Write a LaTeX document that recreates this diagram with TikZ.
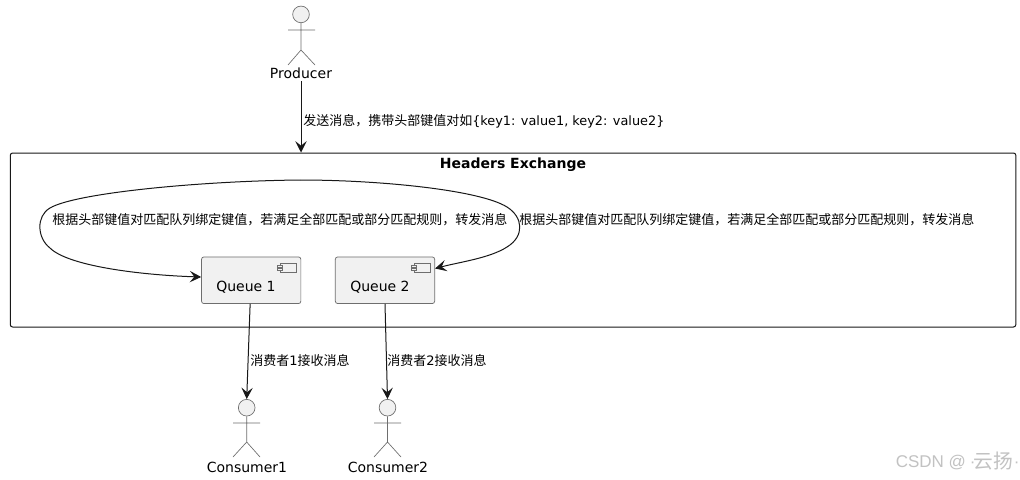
\documentclass[tikz,border=0pt]{standalone}
\usepackage{fontspec}
\setmainfont{DejaVu Sans}
\newfontfamily\cjk{Noto Sans CJK SC}
\newfontfamily\wmlatin{Liberation Sans}
\usetikzlibrary{arrows.meta}
\definecolor{umlfill}{HTML}{F1F1F1}
\definecolor{umlline}{HTML}{181818}
\definecolor{umlgrey}{HTML}{6E6E6E}
\tikzset{
  umlarrow/.style={draw=umlline,line width=0.75pt,-{Stealth[length=8.5pt,width=8.5pt,inset=3.4pt]}},
  actorhead/.style={circle,draw=umlgrey,fill=umlfill,line width=0.5pt,minimum size=12.5pt,inner sep=0pt},
  actorline/.style={draw=umlgrey,line width=0.5pt},
  actortext/.style={font=\fontsize{10.5pt}{12pt}\selectfont,inner sep=2pt,anchor=base,text=black},
  msg/.style={font=\fontsize{9.75pt}{12pt}\selectfont,inner sep=0pt,anchor=base west,text=black},
  queuebox/.style={draw=umlgrey,fill=umlfill,line width=0.55pt,rounded corners=1.8pt,minimum width=74.5pt,minimum height=35pt,inner sep=0pt},
  queuetext/.style={font=\fontsize{10.5pt}{12pt}\selectfont,inner sep=0pt,anchor=base west,text=black},
  exchbox/.style={draw=umlline,line width=0.75pt,rounded corners=1.8pt,minimum width=754.2pt,minimum height=130.5pt,inner sep=0pt},
  icon/.style={draw=umlgrey,line width=0.5pt,fill=umlfill},
  watermark/.style={text=black!24,inner sep=0pt,anchor=base west}
}
\begin{document}
\begin{tikzpicture}[x=0.75pt,y=-0.75pt]
\path[fill=white,use as bounding box] (0,0) rectangle (1020,479);
% Producer
\node[actorhead] (phead) at (301,14.4) {};
\draw[actorline] (phead.south) -- (301,50) (288,30) -- (315,30) (288,65) -- (301,50) -- (315,65);
\node[actortext] (prod) at (301,78) {Producer};
% Exchange
\node[exchbox] (exch) at (513.05,240) {};
\node[font=\bfseries\fontsize{10.5pt}{12pt}\selectfont,inner sep=0pt,anchor=base] (exchtitle) at (513,168) {Headers Exchange};
% Queues
\node[queuebox] (q1) at (251.2,280.25) {};
\node[queuebox] (q2) at (385,280.25) {};
\node[queuetext] (q1t) at (216,291) {Queue 1};
\node[queuetext] (q2t) at (350,291) {Queue 2};
\foreach \qx in {280,414}{
  \draw[icon] (\qx,263.5) rectangle (\qx+16,272.5);
  \draw[icon] (\qx-2.5,265.3) rectangle (\qx+2.5,267.5);
  \draw[icon] (\qx-2.5,268.5) rectangle (\qx+2.5,270.7);
}
% Consumers
\node[actorhead] (c1head) at (246.7,407.7) {};
\draw[actorline] (c1head.south) -- (246.7,442) (233,423) -- (260,423) (233,457) -- (246.7,442) -- (260,457);
\node[actortext] (c1) at (247,472) {Consumer1};
\node[actorhead] (c2head) at (387.5,407.7) {};
\draw[actorline] (c2head.south) -- (387.5,442) (374,423) -- (401,423) (374,457) -- (387.5,442) -- (401,457);
\node[actortext] (c2) at (388,472) {Consumer2};
% Connectors
\draw[umlarrow] (prod.south) -- (exch.north -| prod.south);
\coordinate (peak) at (300,180);
\draw[umlarrow] (peak) .. controls (200,181) and (75,193) .. (50,208)
  .. controls (36,216) and (37,238) .. (50,248)
  .. controls (68,266) and (140,275) .. (q1.west |- 0,277);
\draw[umlarrow] (peak) .. controls (380,180) and (480,190) .. (507,207)
  .. controls (523,217) and (525,236) .. (507,247)
  .. controls (490,258) and (460,262) .. (q2.east |- 0,268.5);
\draw[umlarrow] ([xshift=-0.8pt]q1.south) -- (c1head.north);
\draw[umlarrow] (q2.south) -- (c2head.north);
% Labels
\node[msg] (l1) at (303,125) {{\cjk 发送消息，携带头部键值对如}{\fontsize{9.65pt}{12pt}\selectfont\{key1: value1, key2: value2\}}};
\node[msg] (l2) at (52,224) {\cjk 根据头部键值对匹配队列绑定键值，若满足全部匹配或部分匹配规则，转发消息};
\node[msg] (l3) at (519,224) {\cjk 根据头部键值对匹配队列绑定键值，若满足全部匹配或部分匹配规则，转发消息};
\node[msg] (l4) at (250,365) {{\cjk 消费者}1{\cjk 接收消息}};
\node[msg] (l5) at (387,365) {{\cjk 消费者}2{\cjk 接收消息}};
% Watermark
\node[watermark,font=\wmlatin\fontsize{12.75pt}{15pt}\selectfont] (wm) at (895.5,467) {CSDN @};
\node[watermark,font=\wmlatin\fontsize{12.75pt}{15pt}\selectfont] (wma) at (969.5,467) {·};
\node[watermark,font=\cjk\fontsize{14.8pt}{16pt}\selectfont] (wmb) at (973.5,468) {云扬};
\node[watermark,font=\wmlatin\fontsize{12.75pt}{15pt}\selectfont] (wmc) at (1013.5,467) {·};
\end{tikzpicture}
\end{document}
